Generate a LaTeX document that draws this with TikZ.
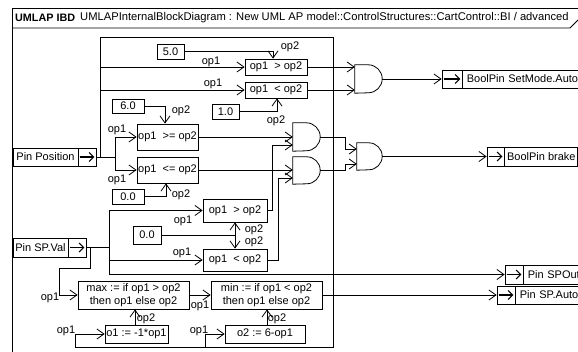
\documentclass[tikz,border=0pt]{standalone}
\usepackage{fontspec}
\setmainfont{Liberation Sans}
\usetikzlibrary{arrows.meta,calc}
\newcommand\drawgate[2]{\draw[ln] (#1.north west) -- ([xshift=-#2pt]#1.north east) arc[start angle=-90,end angle=90,radius=#2] -- (#1.south west) -- cycle;}
\newcommand\portarrow[1]{\draw[line width=1.1pt,-{Straight Barb[length=4.5pt,width=9pt]}] ([xshift=2pt]#1.west) -- ([xshift=-2pt]#1.east);}
\begin{document}
\begin{tikzpicture}[x=1pt,y=-1pt,
  ln/.style={line width=0.8pt},
  every node/.style={font=\fontsize{11}{12.5}\selectfont, inner sep=0pt},
  box/.style={draw, ln, inner sep=0pt, align=center},
  gate/.style={minimum width=27, minimum height=28, inner sep=0pt},
  port/.style={draw, ln, minimum width=18, minimum height=18},
  pinlbl/.style={draw, ln, minimum height=18, inner xsep=2pt},
  wire/.style={ln, -{Straight Barb[length=7pt,width=10pt]}},
  lbl/.style={inner sep=0pt}]
\useasboundingbox (0,0) rectangle (578,352);
\fill[white] (0,0) rectangle (578,352);

% frame and header
\draw[ln] (12,352) -- (12,8) -- (578,8);
\draw[ln] (12,28) -- (570,28) -- (578,20);
\node[anchor=west, font=\fontsize{10.8}{12}\selectfont\bfseries] (hb) at (15,18) {UMLAP IBD};
\node[anchor=west, font=\fontsize{11.2}{12.5}\selectfont] (ht) at (80,18) {UMLAPInternalBlockDiagram : New UML AP model::ControlStructures::CartControl::BI / advanced};

% blocks
\node[box, minimum width=27, minimum height=15] (k5) at (170.5,51.5) {5.0};
\node[box, minimum width=62, minimum height=16] (gt1) at (276,67) {op1\ \ > op2};
\node[box, minimum width=62, minimum height=16] (lt1) at (276,90) {op1\ \ < op2};
\node[box, minimum width=27, minimum height=15] (k1) at (225.5,111.5) {1.0};
\node[box, minimum width=32, minimum height=14] (k6) at (128,106) {6.0};
\node[box, minimum width=61, minimum height=26] (ge) at (167.5,137) {op1\ \ >= op2};
\node[box, minimum width=61, minimum height=26] (le) at (167.5,170) {op1\ \ <= op2};
\node[box, minimum width=32, minimum height=15] (k0a) at (128,196.5) {0.0};
\node[box, minimum width=64, minimum height=23] (gt2) at (235,210.5) {op1\ \ > op2};
\node[box, minimum width=28, minimum height=18] (k0b) at (147,235) {0.0};
\node[box, minimum width=64, minimum height=22] (lt2) at (235,260) {op1\ \ < op2};
\node[box, minimum width=111, minimum height=28] (mx) at (133.5,295) {max := if op1 > op2\\then op1 else op2};
\node[box, minimum width=111, minimum height=28] (mn) at (266.5,295) {min := if op1 < op2\\then op1 else op2};
\node[box, minimum width=63, minimum height=18] (o1) at (136.5,334) {o1 := -1*op1};
\node[box, minimum width=80, minimum height=18] (o2) at (265,334) {o2 := 6-op1};

% gates
\node[gate] (g1) at (368.5,79) {};
\node[gate] (g2) at (306.5,137) {};
\node[gate, minimum height=27] (g3) at (306.5,170.5) {};
\node[gate, minimum width=25, minimum height=27] (g4) at (369.5,156.5) {};
\drawgate{g1}{14}
\drawgate{g2}{14}
\drawgate{g3}{13.5}
\drawgate{g4}{13.5}

% pins
\node[pinlbl, minimum width=65] (posl) at (45.5,157) {Pin Position};
\node[port] (posp) at (87,157) {};
\node[pinlbl, minimum width=55, minimum height=19] (spvl) at (40.5,247.5) {Pin SP.Val};
\node[port, minimum height=19] (spvp) at (77,247.5) {};
\node[port, minimum width=20] (smp) at (452,79) {};
\node[pinlbl, anchor=west, text width=140, align=left, inner xsep=4pt] (sml) at (smp.east) {BoolPin SetMode.Auto};
\node[port, minimum width=17, minimum height=19] (brp) at (495.5,156.5) {};
\node[pinlbl, anchor=west, minimum width=73, minimum height=19] (brl) at (brp.east) {BoolPin brake};
\node[port, minimum height=19] (sop) at (514,274.5) {};
\node[pinlbl, anchor=west, text width=80, align=left, inner xsep=4pt, minimum height=19] (sol) at (sop.east) {Pin SPOut};
\node[port] (sap) at (506,295) {};
\node[pinlbl, anchor=west, text width=80, align=left, inner xsep=4pt] (sal) at (sap.east) {Pin SP.Auto};
\portarrow{posp}
\portarrow{spvp}
\portarrow{smp}
\portarrow{brp}
\portarrow{sop}
\portarrow{sap}

% Position wiring (big loop)
\coordinate (pA) at (100,157);
\coordinate (pB) at (115,157);
\coordinate (pTL) at (100,37);
\coordinate (pTR) at (333,37);
\coordinate (pBR) at (333,347);
\coordinate (pBL) at (75,347);
\coordinate (pO1) at (75,334);
\coordinate (pO2b) at (205,347);
\coordinate (pO2) at (205,334);
\draw[ln] (posp.east) -- (pB);
\draw[ln] (pA) -- (pTL) -- (pTR) -- (pBR) -- (pBL) -- (pO1);
\draw[wire] (pO1) -- (o1.west);
\draw[ln] (pO2b) -- (pO2);
\draw[wire] (pO2) -- (o2.west);
\draw[wire] (pA |- gt1.west) -- (gt1.west);
\draw[wire] (pA |- lt1.west) -- (lt1.west);
\draw[ln] (pB |- ge.west) -- (pB |- le.west);
\draw[wire] (pB |- ge.west) -- (ge.west);
\draw[wire] (pB |- le.west) -- (le.west);

% constants
\draw[wire] (k5.east) -| ([xshift=-3pt]gt1.north);
\draw[wire] (k1.east) -| ([xshift=1pt]lt1.south);
\draw[wire] (k6.east) -| ([xshift=-2.5pt]ge.north);
\draw[wire] (k0a.east) -| ([xshift=-1.5pt]le.south);
\coordinate (kb) at (gt2.south |- k0b.east);
\draw[ln] (k0b.east) -- (kb);
\draw[wire] (kb) -- (gt2.south);
\draw[wire] (kb) -- (lt2.north);

% SP.Val wiring
\coordinate (sv1) at (109,247.5);
\coordinate (sv2) at (90,247.5);
\coordinate (sv3) at (90,268);
\coordinate (sv4) at (59,268);
\draw[ln] (spvp.east) -- (sv1);
\draw[ln] (sv1 |- gt2.west) -- (sv1 |- sop.west);
\draw[wire] (sv1 |- gt2.west) -- (gt2.west);
\draw[wire] (sv1 |- lt2.west) -- (lt2.west);
\draw[wire] (sv1 |- sop.west) -- (sop.west);
\draw[wire] (sv2) -- (sv3) -- (sv4) -- (sv4 |- mx.west) -- (mx.west);

% logic
\draw[wire] (gt1.east) -- (gt1.east -| g1.west);
\draw[wire] (lt1.east) -- (lt1.east -| g1.west);
\draw[wire] (g1.east) -- (smp.west);
\draw[wire] (ge.east) -- (ge.east -| g2.west);
\draw[wire] (gt2.east) -- ++(5,0) |- ([yshift=-8pt]g2.west);
\draw[wire] (le.east) -- (le.east -| g3.west);
\draw[wire] (lt2.east) -- ++(11,0) |- ([yshift=-7.5pt]g3.west);
\draw[wire] (g2.east) -- ++(25,0) |- ([yshift=7.5pt]g4.west);
\draw[wire] (g3.east) -- ++(25,0) |- ([yshift=-7.5pt]g4.west);
\draw[wire] (g4.east) -- (brp.west);

% max/min chain
\draw[wire] (mx.east) -- (mn.west);
\draw[wire] (mn.east) -- (sap.west);
\draw[wire] ([xshift=-1.5pt]o1.north) -- ([xshift=-1.5pt]o1.north |- mx.south);
\draw[wire] ([xshift=2pt]o2.north) -- ([xshift=2pt]o2.north |- mn.south);

% port labels
\node[lbl] (a1) at (290,47) {op2};
\node[lbl] (a2) at (211,62) {op1};
\node[lbl] (a3) at (213,84) {op1};
\node[lbl] (a4) at (276,121) {op2};
\node[lbl] (a5) at (181,111) {op2};
\node[lbl] (a6) at (117,130) {op1};
\node[lbl] (a7) at (117,180) {op1};
\node[lbl] (a8) at (181,195) {op2};
\node[lbl] (a9) at (183,221) {op1};
\node[lbl] (a10) at (254,230) {op2};
\node[lbl] (a11) at (254,242) {op2};
\node[lbl] (a12) at (182,253) {op1};
\node[lbl] (a13) at (50,298) {op1};
\node[lbl] (a14) at (200,306) {op1};
\node[lbl] (a15) at (146,319) {op2};
\node[lbl] (a16) at (277,319) {op2};
\node[lbl] (a17) at (66,331) {op1};
\node[lbl] (a18) at (199,331) {op1};
\end{tikzpicture}
\end{document}
